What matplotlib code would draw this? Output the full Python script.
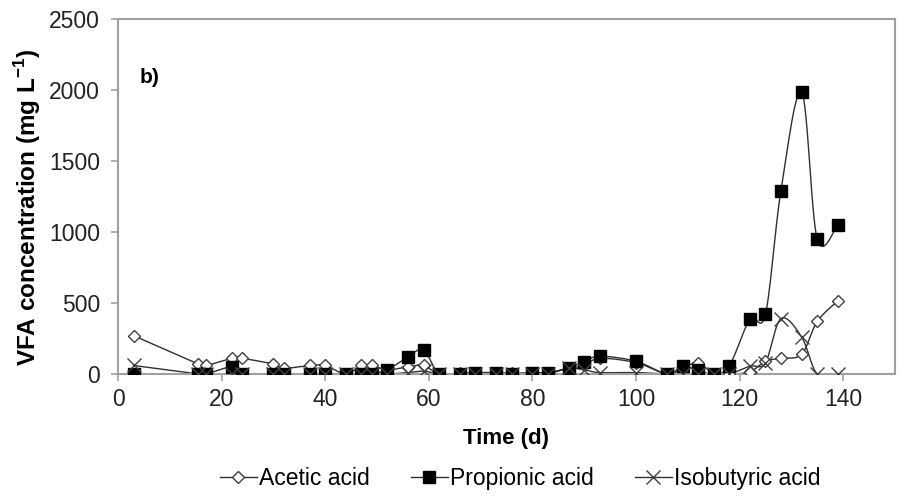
import numpy as np
import matplotlib
matplotlib.use("Agg")
import matplotlib.pyplot as plt
from matplotlib.lines import Line2D

plt.rcParams['font.family'] = ['Liberation Sans', 'DejaVu Sans']
plt.rcParams['mathtext.fontset'] = 'custom'
plt.rcParams['mathtext.rm'] = 'Liberation Sans'
plt.rcParams['mathtext.bf'] = 'Liberation Sans:bold'

# ---- data ----
time_d = [3, 15.5, 17, 22, 24, 30, 32, 37, 40, 44, 47, 49, 52, 56, 59, 62, 66, 69,
          73, 76, 80, 83, 87, 90, 93, 100, 106, 109, 112, 115, 118, 122, 125, 128,
          132, 135, 139]
acetic = [270, 70, 60, 110, 110, 70, 40, 60, 60, 0, 60, 60, 30, 50, 60, 0, 5, 10,
          10, 5, 10, 10, 40, 60, 110, 80, 0, 40, 80, 0, 0, 15, 90, 110,
          140, 370, 515]
propionic = [0, 0, 0, 50, 0, 0, 0, 0, 0, 0, 0, 0, 30, 120, 170, 0, 0, 5,
             5, 0, 5, 5, 45, 85, 125, 90, 0, 55, 25, 0, 55, 385, 420, 1290,
             1985, 950, 1050]
isobutyric = [60, 0, 0, 0, 0, 0, 0, 0, 0, 0, 0, 0, 0, 10, 20, 0, 0, 0,
              0, 0, 0, 0, 40, 30, 10, 10, 0, 0, 0, 0, 0, 55, 80, 390,
              260, 0, 0]
series_names = ['Acetic acid', 'Propionic acid', 'Isobutyric acid']
x_ticks = [0, 20, 40, 60, 80, 100, 120, 140]
y_ticks = [0, 500, 1000, 1500, 2000, 2500]


def smooth(xs, ys, n=16):
    """Excel-like smoothed line (cubic Bezier through the points)."""
    P = np.column_stack([xs, ys]).astype(float)
    out = [P[0]]
    m = len(P)
    for i in range(m - 1):
        p0 = P[i - 1] if i > 0 else P[i]
        p1 = P[i]
        p2 = P[i + 1]
        p3 = P[i + 2] if i + 2 < m else P[i + 1]
        c1 = p1 + (p2 - p0) / 6.0
        c2 = p2 - (p3 - p1) / 6.0
        t = np.linspace(0, 1, n)[1:, None]
        seg = ((1 - t) ** 3) * p1 + 3 * ((1 - t) ** 2) * t * c1 + 3 * (1 - t) * t ** 2 * c2 + t ** 3 * p2
        out.extend(seg)
    out = np.array(out)
    return out[:, 0], out[:, 1]


fig = plt.figure(figsize=(9.03, 4.98), dpi=100)
ax = fig.add_axes([0.1307, 0.249, 0.8603, 0.713])

line_col = '#303030'
styles = [
    dict(marker='D', ms=6.5, mfc='white', mec='#404040', mew=1.0),
    dict(marker='s', ms=9, mfc='black', mec='black', mew=1.0),
    dict(marker='x', ms=9.5, mec='#404040', mew=1.0),
]
data = [acetic, propionic, isobutyric]
for vals, st in zip(data, styles):
    sx, sy = smooth(time_d, vals)
    ax.plot(sx, sy, color=line_col, lw=1.0, zorder=2)
    ax.plot(time_d, vals, ls='none', zorder=3, **st)

ax.set_xlim(0, 150)
ax.set_ylim(0, 2500)
ax.set_xticks(x_ticks)
ax.set_yticks(y_ticks)
for s in ax.spines.values():
    s.set_color('#a0a0a0')
    s.set_linewidth(1.5)
ax.tick_params(axis='both', direction='out', length=5, width=1.2, color='#a0a0a0',
               labelsize=16.5, labelcolor='#222222')
ax.tick_params(axis='y', pad=8)
ax.tick_params(axis='x', pad=5)

ax.set_xlabel('Time (d)', fontsize=16, fontweight='bold', labelpad=12)
ax.set_ylabel(r'VFA concentration (mg L$^{\mathbf{-1}}$)', fontsize=17.5,
              fontweight='bold')
ax.yaxis.set_label_coords(-0.097, 0.47)
ax.text(0.028, 0.834, 'b)', transform=ax.transAxes, fontsize=15, fontweight='bold',
        va='center')

handles = [Line2D([], [], color=line_col, lw=1.0, **st) for st in styles]
fig.legend(handles, series_names, loc='center', bbox_to_anchor=(0.576, 0.04), ncol=3,
           frameon=False, fontsize=16.5, handlelength=1.6, handletextpad=0.1,
           columnspacing=1.8)

fig.savefig('out.png', dpi=100)
